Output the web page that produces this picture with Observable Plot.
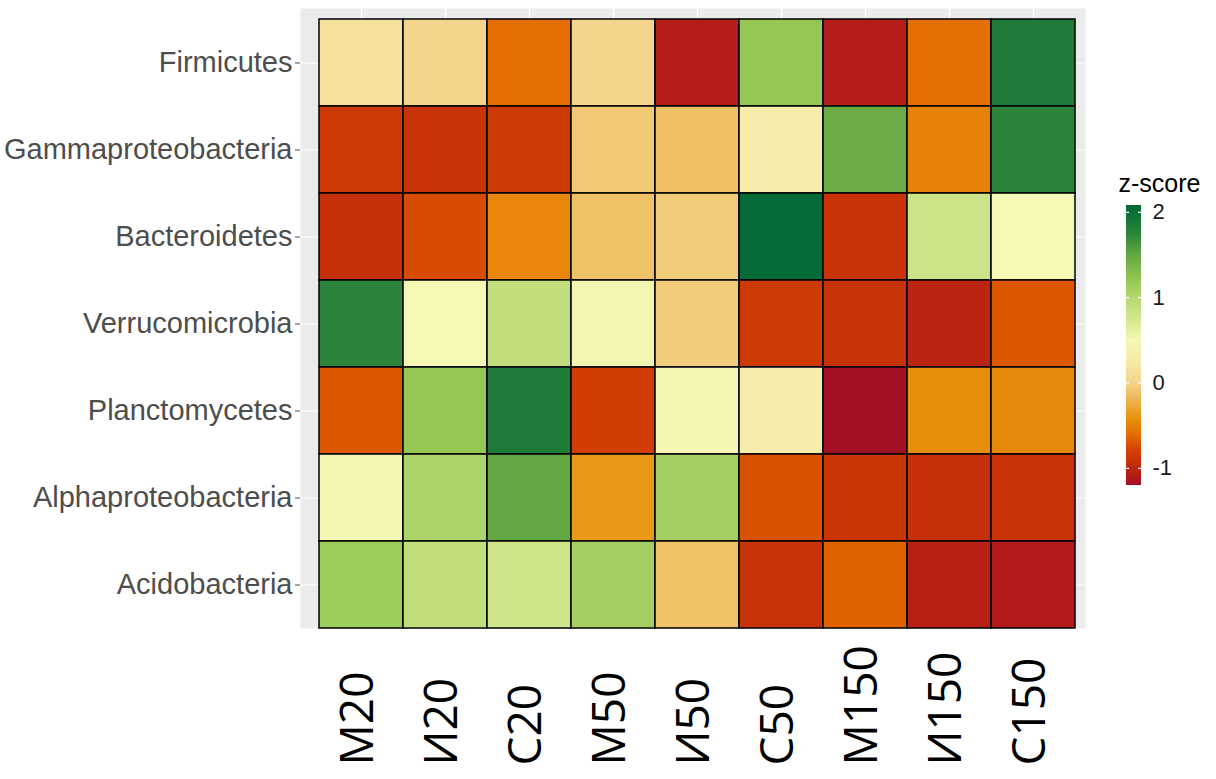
<!DOCTYPE html>
<html>
<head>
<meta charset="utf-8">
<script src="https://cdn.jsdelivr.net/npm/d3@7"></script>
<script src="https://cdn.jsdelivr.net/npm/@observablehq/plot@0.6"></script>
<style>
  html, body { margin: 0; padding: 0; background: white; }
  #wrap { position: relative; width: 1216px; height: 779px; overflow: hidden; }
  #legend { position: absolute; left: 1100px; top: 160px; }
</style>
</head>
<body>
<div id="wrap"><div id="main"></div><div id="legend"></div></div>
<script>
const columns = ["М20", "И20", "С20", "М50", "И50", "С50", "М150", "И150", "С150"];
const taxa = ["Firmicutes", "Gammaproteobacteria", "Bacteroidetes", "Verrucomicrobia", "Planctomycetes", "Alphaproteobacteria", "Acidobacteria"];

const firmicutes          = [0.15, 0.0, -0.6, 0.0, -1.08, 1.2, -1.08, -0.6, 1.85];
const gammaproteobacteria = [-0.85, -0.9, -0.85, -0.08, -0.13, 0.3, 1.45, -0.5, 1.75];
const bacteroidetes       = [-0.92, -0.75, -0.48, -0.12, -0.06, 2.05, -0.9, 0.8, 0.5];
const verrucomicrobia     = [1.75, 0.5, 0.9, 0.52, -0.06, -0.85, -0.9, -1.02, -0.7];
const planctomycetes      = [-0.7, 1.2, 1.85, -0.82, 0.48, 0.3, -1.2, -0.45, -0.47];
const alphaproteobacteria = [0.48, 1.05, 1.5, -0.38, 1.1, -0.72, -0.88, -0.92, -0.9];
const acidobacteria       = [1.15, 0.9, 0.78, 1.1, -0.12, -0.9, -0.65, -1.05, -1.1];

const legendTicks = [-1, 0, 1, 2];

const series = [firmicutes, gammaproteobacteria, bacteroidetes, verrucomicrobia, planctomycetes, alphaproteobacteria, acidobacteria];
const table = [];
taxa.forEach((t, i) => columns.forEach((c, j) => table.push({taxon: t, sample: c, z: series[i][j]})));

const colorScale = {
  type: "linear",
  domain: [-1.2, -1.0, -0.8, -0.6, -0.4, -0.2, 0, 0.25, 0.5, 0.75, 1.0, 1.25, 1.5, 1.75, 2.08],
  range: ["#A50F26", "#BE2610", "#D34000", "#E46E00", "#E9960F", "#EDB450", "#F3D68C", "#F7E9A6", "#F5F7B4", "#D2E68C", "#B4D872", "#8EC24D", "#62A744", "#2B8439", "#006837"],
  interpolate: "rgb"
};

const main = Plot.plot({
  width: 1216,
  height: 779,
  marginLeft: 316,
  marginRight: 139,
  marginTop: 18,
  marginBottom: 151,
  style: {background: "white", overflow: "visible"},
  x: {domain: columns, padding: 0, axis: null},
  y: {domain: taxa, padding: 0, axis: null},
  color: colorScale,
  marks: [
    Plot.frame({fill: "#EBEBEB", stroke: null, insetLeft: -16, insetRight: -8, insetTop: -10, insetBottom: 0}),
    Plot.ruleX(columns, {x: d => d, stroke: "white", strokeWidth: 1.2, insetTop: -10}),
    Plot.ruleY(taxa, {y: d => d, stroke: "white", strokeWidth: 1.2, insetLeft: -16, insetRight: -8}),
    Plot.cell(table, {x: "sample", y: "taxon", fill: "z", stroke: "black", strokeWidth: 1.5}),
    Plot.axisY({dx: -16, tickSize: 5, tickPadding: 3, fontSize: 29, fontFamily: "Liberation Sans, Arial, sans-serif", color: "#4D4D4D", label: null}),
    Plot.text(columns, {x: d => d, text: d => d, frameAnchor: "bottom", dy: 137, dx: -3, rotate: -90, textAnchor: "start", lineAnchor: "middle", fontSize: 46, fontFamily: "Open Sans, sans-serif", fill: "black"})
  ]
});
document.getElementById("main").appendChild(main);

// Legend as a separate small Plot
const lo = colorScale.domain[0], hi = colorScale.domain[colorScale.domain.length - 1];
const nSteps = 140;
const slices = d3.range(nSteps).map(i => ({y1: lo + (hi - lo) * i / nSteps, y2: lo + (hi - lo) * (i + 1) / nSteps}));
const legend = Plot.plot({
  width: 116,
  height: 340,
  marginTop: 45,
  marginBottom: 15,
  marginLeft: 0,
  marginRight: 0,
  style: {background: "transparent", overflow: "visible"},
  x: {domain: [0, 116], axis: null},
  y: {domain: [lo, hi], axis: null},
  color: colorScale,
  marks: [
    Plot.rect(slices, {x1: () => 26, x2: () => 41, y1: "y1", y2: "y2", fill: d => (d.y1 + d.y2) / 2}),
    Plot.ruleY(legendTicks, {y: d => d, x1: () => 26, x2: () => 29, stroke: "white", strokeWidth: 1.2}),
    Plot.ruleY(legendTicks, {y: d => d, x1: () => 38, x2: () => 41, stroke: "white", strokeWidth: 1.2}),
    Plot.text(legendTicks, {x: () => 52, y: d => d, text: d => String(d), textAnchor: "start", fontSize: 22, fontFamily: "Liberation Sans, Arial, sans-serif", fill: "#1a1a1a"}),
    Plot.text(["z-score"], {frameAnchor: "top-left", dx: 18, dy: -22, lineAnchor: "middle", textAnchor: "start", fontSize: 25, fontFamily: "Liberation Sans, Arial, sans-serif", fill: "black"})
  ]
});
document.getElementById("legend").appendChild(legend);
</script>
</body>
</html>
